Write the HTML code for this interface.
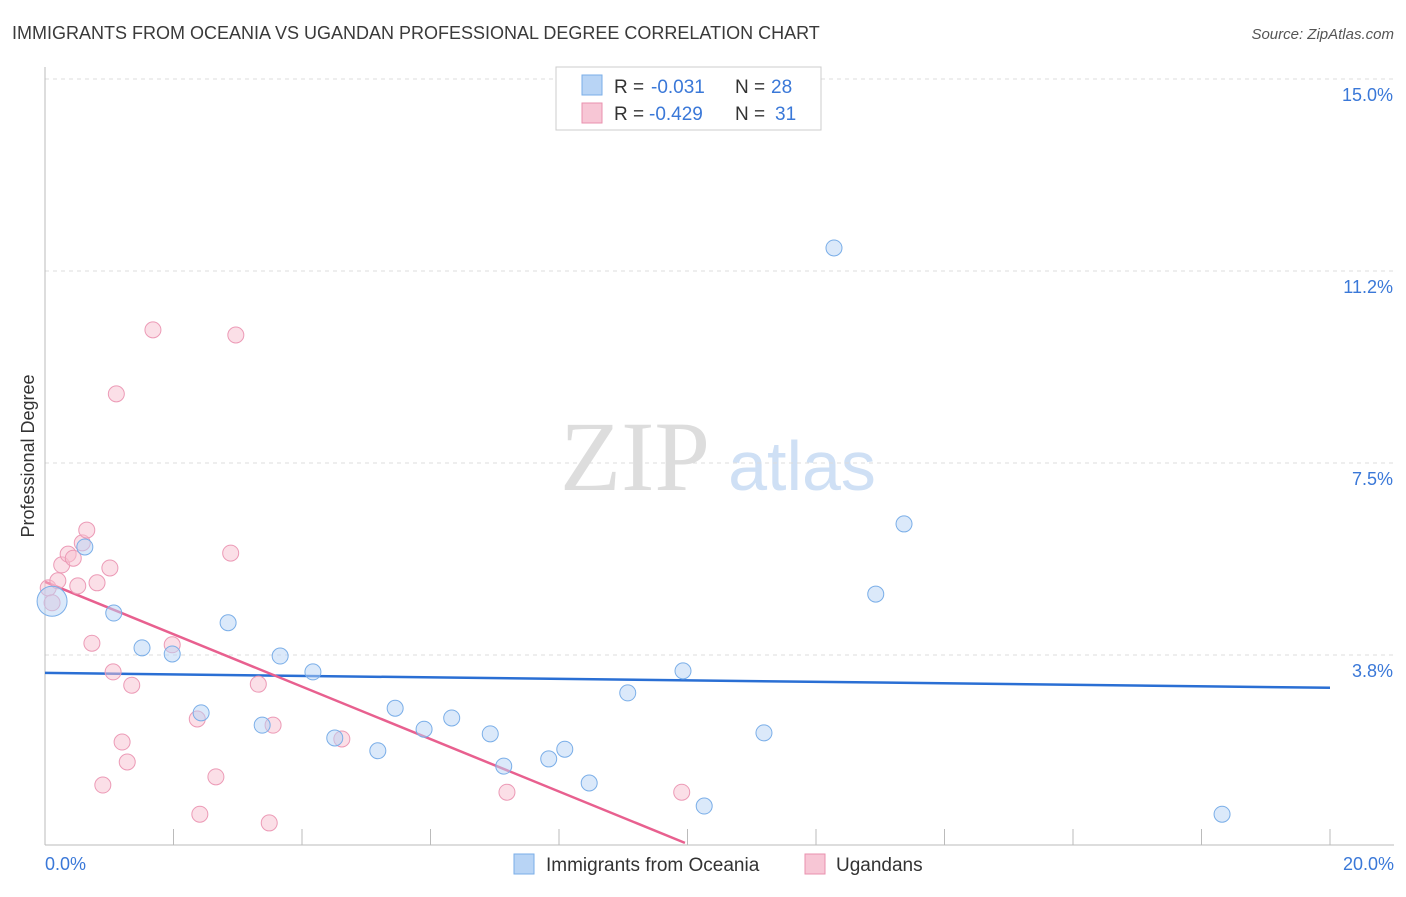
<!DOCTYPE html>
<html><head><meta charset="utf-8"><style>
body{margin:0;background:#fff;font-family:"Liberation Sans",sans-serif;}
</style></head><body>
<svg id="chart" width="1406" height="892" viewBox="0 0 1406 892" xmlns="http://www.w3.org/2000/svg" font-family="Liberation Sans, sans-serif">
<text x="12" y="39" font-size="18" fill="#3a3a3a">IMMIGRANTS FROM OCEANIA VS UGANDAN PROFESSIONAL DEGREE CORRELATION CHART</text>
<text x="1394" y="39" font-size="15" fill="#555" font-style="italic" text-anchor="end">Source: ZipAtlas.com</text>
<g>
<text x="635" y="490" font-size="100" fill="#ddd" style="font-family:'Liberation Serif',serif" text-anchor="middle">ZIP</text>
<text x="802" y="490" font-size="70" fill="#cfe0f5" text-anchor="middle">atlas</text>
</g>
<g id="grid"></g>
<g id="axes"></g>
<g id="trends"></g>
<g id="points"></g>
<text transform="translate(34,456) rotate(-90)" font-size="18" fill="#333" text-anchor="middle">Professional Degree</text>
<text x="45" y="870" font-size="18" fill="#3a78d8">0.0%</text>
<text x="1394" y="870" font-size="18" fill="#3a78d8" text-anchor="end">20.0%</text>
<g>
<rect x="556" y="67" width="265" height="63" fill="#fff" stroke="#ccc"/>
<rect x="582" y="75" width="20" height="20" fill="#b8d4f5" stroke="#7aaee8"/>
<text x="614" y="93" font-size="19" fill="#333">R =</text>
<text x="651" y="93" font-size="19" fill="#3a78d8">-0.031</text>
<text x="735" y="93" font-size="19" fill="#333">N =</text>
<text x="771" y="93" font-size="19" fill="#3a78d8">28</text>
<rect x="582" y="103" width="20" height="20" fill="#f7c6d5" stroke="#ea90ae"/>
<text x="614" y="120" font-size="19" fill="#333">R =</text>
<text x="649" y="120" font-size="19" fill="#3a78d8">-0.429</text>
<text x="735" y="120" font-size="19" fill="#333">N =</text>
<text x="775" y="120" font-size="19" fill="#3a78d8">31</text>
</g>
<g>
<rect x="514" y="854" width="20" height="20" fill="#b8d4f5" stroke="#7aaee8"/>
<text x="546" y="871" font-size="19" fill="#333">Immigrants from Oceania</text>
<rect x="805" y="854" width="20" height="20" fill="#f7c6d5" stroke="#ea90ae"/>
<text x="836" y="871" font-size="19" fill="#333">Ugandans</text>
</g>
</svg>
<script>
const yTicks=[3.75,7.5,11.25,15];
const yTickLabels=["3.8%","7.5%","11.2%","15.0%"];
const xTicks=[2,4,6,8,10,12,14,16,18,20];
const blueX=[0.11,0.62,1.07,1.51,1.98,2.43,2.85,3.38,3.66,4.17,4.51,5.18,5.45,5.90,6.33,6.93,7.14,7.84,8.09,8.47,9.07,9.93,10.26,11.19,12.28,12.93,13.37,18.32];
const blueY=[4.80,5.86,4.57,3.89,3.77,2.62,4.38,2.38,3.73,3.42,2.13,1.88,2.71,2.30,2.52,2.21,1.58,1.72,1.91,1.25,3.01,3.44,0.80,2.23,11.70,4.94,6.31,0.64];
const pinkX=[0.05,0.11,0.20,0.26,0.36,0.44,0.51,0.58,0.65,0.73,0.81,0.90,1.01,1.06,1.11,1.20,1.28,1.35,1.68,1.98,2.37,2.41,2.66,2.89,2.97,3.32,3.49,3.55,4.62,7.19,9.91];
const pinkY=[5.06,4.77,5.20,5.51,5.72,5.64,5.10,5.94,6.19,3.98,5.16,1.21,5.45,3.42,8.85,2.05,1.66,3.16,10.10,3.95,2.50,0.64,1.37,5.74,10.00,3.18,0.47,2.38,2.11,1.07,1.07];
const blueTrend=[[0,3.40],[20,3.11]];
const pinkTrend=[[0,5.18],[9.96,0.08]];
const NS="http://www.w3.org/2000/svg";
const X=v=>45+v*64.25, Y=v=>847-v*51.2;
function mk(t,a,p){const e=document.createElementNS(NS,t);for(const k in a)e.setAttribute(k,a[k]);p.appendChild(e);return e;}
const grid=document.getElementById('grid'),axes=document.getElementById('axes');
yTicks.forEach((t,i)=>{
 const l=mk('line',{x1:45,x2:1394,y1:Y(t),y2:Y(t),stroke:'#ddd','stroke-dasharray':'4,4'},grid);
 
 
 const tx=mk('text',{x:1393,y:Y(t)+22,'font-size':18,fill:'#3a78d8','text-anchor':'end'},grid);
 tx.textContent=yTickLabels[i];
 
 
});
const ya=mk('line',{x1:45,x2:45,y1:67,y2:845,stroke:'#bbb'},axes);


const xa=mk('line',{x1:45,x2:1394,y1:845,y2:845,stroke:'#bbb'},axes);


xTicks.forEach(t=>{
 const l=mk('line',{x1:X(t),x2:X(t),y1:829,y2:845,stroke:'#bbb'},axes);
 
 
});
const tr=document.getElementById('trends'),pts=document.getElementById('points');
function dots(xs,ys,fill,stroke,name){
 xs.forEach((x,i)=>{
  const r=(name==='oceania-point'&&i===0)?15:8;
  const c=mk('circle',{cx:X(x),cy:Y(ys[i]),r:r,fill:fill,'fill-opacity':0.5,stroke:stroke,'stroke-width':1},pts);
  
  
 });
}
dots(pinkX,pinkY,'#f7c0d0','#ec9ab6','ugandan-point');
dots(blueX,blueY,'#b8d4f5','#7aaee8','oceania-point');
const bl=mk('line',{x1:X(blueTrend[0][0]),y1:Y(blueTrend[0][1]),x2:X(blueTrend[1][0]),y2:Y(blueTrend[1][1]),stroke:'#2a6fd4','stroke-width':2.5},tr);


const pl=mk('line',{x1:X(pinkTrend[0][0]),y1:Y(pinkTrend[0][1]),x2:X(pinkTrend[1][0]),y2:Y(pinkTrend[1][1]),stroke:'#e8608f','stroke-width':2.5},tr);


</script>
</body></html>
